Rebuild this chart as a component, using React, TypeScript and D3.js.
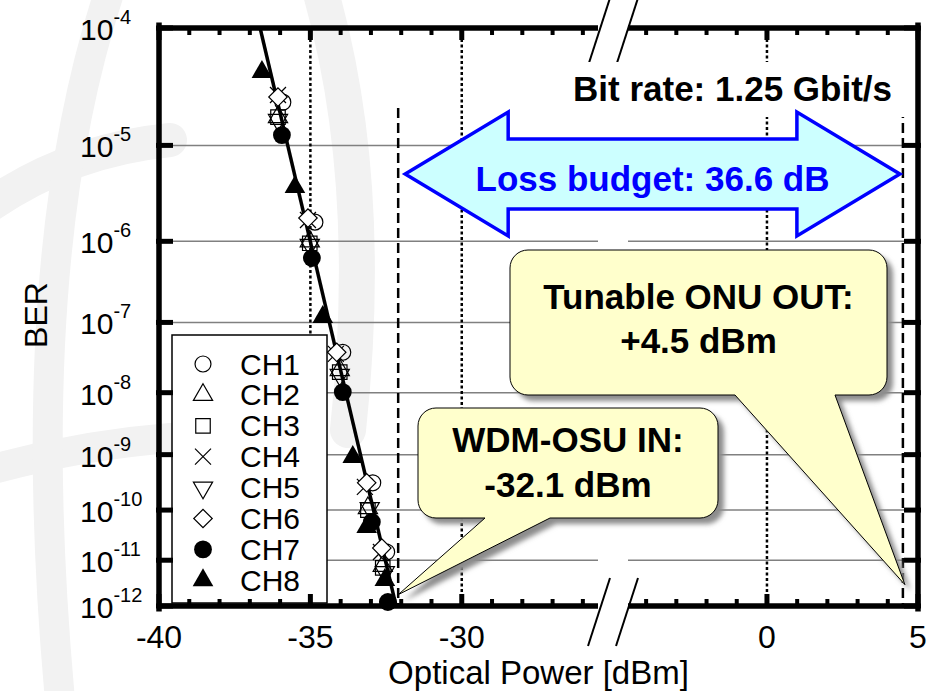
import React, { useEffect, useRef } from "react";
import * as d3 from "d3";

// BER curves, [optical power dBm, BER]
const channels = ["CH1", "CH2", "CH3", "CH4", "CH5", "CH6", "CH7", "CH8"];
const ch1 = [[-35.91, 2.48e-5], [-34.85, 1.64e-6], [-33.93, 3.9e-8], [-32.94, 3.2e-10], [-32.48, 1.48e-11]];
const ch2 = [[-36.07, 1.83e-5], [-35.02, 1.0e-6], [-34.03, 2.17e-8], [-33.1, 1.09e-10], [-32.61, 7.6e-12]];
const ch3 = [[-36.07, 1.83e-5], [-35.02, 9.5e-7], [-34.03, 2.03e-8], [-33.1, 1.0e-10], [-32.61, 6.9e-12]];
const ch4 = [[-36.07, 2.86e-5], [-35.08, 1.73e-6], [-34.16, 3.7e-8], [-33.2, 2.7e-10], [-32.67, 1.48e-11]];
const ch5 = [[-36.07, 1.72e-5], [-35.02, 9.1e-7], [-34.03, 1.84e-8], [-33.04, 1.09e-10], [-32.54, 5.6e-12]];
const ch6 = [[-36.07, 2.75e-5], [-35.08, 1.82e-6], [-34.13, 3.9e-8], [-33.14, 3.2e-10], [-32.64, 1.78e-11]];
const ch7 = [[-35.94, 1.25e-5], [-34.95, 6.4e-7], [-33.93, 1.02e-8], [-32.97, 5.9e-11], [-32.44, 1.23e-12]];
const ch8 = [[-36.6, 4.48e-5], [-35.51, 3.87e-6], [-34.59, 1.18e-7], [-33.6, 9.1e-10], [-33.14, 4.7e-11], [-32.54, 3.8e-12]];
const series = [ch1, ch2, ch3, ch4, ch5, ch6, ch7, ch8];

// fitted line ends
const fitPower = [-36.66, -32.17];
const fitBer = [1e-4, 1e-12];

// axes
const yExponents = [4, 5, 6, 7, 8, 9, 10, 11, 12];
const xMajorTicks = [-40, -35, -30, 0, 5];
const xBreak = [-25.5, -4.6];
const dottedLines = [-35, -30, 0];
const dashedLines = [-32.1, 4.5];

// annotations
const osuIn = -32.1;
const onuOut = 4.5;
const osuTipBer = 1.8e-12;
const onuTipBer = 3e-12;

const FONT = "'Liberation Sans', Arial, sans-serif";

const App = () => {
  const ref = useRef(null);

  useEffect(() => {
    if (ref.current) draw(ref.current);
  }, []);

  const draw = (node) => {
    const svg = d3.select(node);
    svg.selectAll("*").remove();

    const left = 159, right = 918, top = 28, bottom = 606;
    const gapL = 598, gapR = 628;

    const x = d3.scaleLinear().domain([-40, xBreak[0], xBreak[1], 5]).range([left, gapL, gapR, right]);
    const yLog = d3.scaleLog().domain([4, 12]).range([top, bottom]);
    const y = (ber) => yLog(-Math.log10(ber));

    const defs = svg.append("defs");
    defs.append("clipPath").attr("id", "plotclip")
      .append("rect").attr("x", left).attr("y", top).attr("width", right - left).attr("height", bottom - top);
    const blur = defs.append("filter").attr("id", "shadow").attr("x", "-20%").attr("y", "-20%").attr("width", "140%").attr("height", "140%");
    blur.append("feGaussianBlur").attr("stdDeviation", 2.5);

    // faint watermark in the background
    const wm = svg.append("g").attr("fill", "none").attr("stroke", "#f2f2f2").attr("stroke-linecap", "round");
    wm.append("path").attr("d", "M-10,205 Q70,150 170,140").attr("stroke-width", 34);
    wm.append("path").attr("d", "M-10,470 Q80,445 170,438").attr("stroke-width", 30);
    wm.append("path").attr("d", "M320,-10 Q375,180 348,430").attr("stroke-width", 36);
    wm.append("path").attr("d", "M110,-10 Q20,260 60,700").attr("stroke-width", 30);

    // horizontal grid, split at the axis break
    const grid = svg.append("g").attr("stroke", "#808080").attr("stroke-width", 1.5);
    yExponents.slice(1, -1).forEach((e) => {
      const yy = yLog(e);
      grid.append("line").attr("x1", left).attr("x2", gapL).attr("y1", yy).attr("y2", yy);
      grid.append("line").attr("x1", gapR).attr("x2", right).attr("y1", yy).attr("y2", yy);
    });

    // reference lines
    dottedLines.forEach((p) => {
      svg.append("line").attr("x1", x(p)).attr("x2", x(p)).attr("y1", top).attr("y2", bottom)
        .attr("stroke", "#000").attr("stroke-width", 2.5).attr("stroke-dasharray", "3,2.5");
    });
    dashedLines.forEach((p) => {
      svg.append("line").attr("x1", x(p)).attr("x2", x(p)).attr("y1", 108).attr("y2", bottom)
        .attr("stroke", "#000").attr("stroke-width", 2.5).attr("stroke-dasharray", "10,5");
    });

    // fitted line
    const line = d3.line().x((d) => x(d[0])).y((d) => y(d[1]));
    svg.append("path").datum(fitPower.map((p, i) => [p, fitBer[i]]))
      .attr("d", line).attr("clip-path", "url(#plotclip)")
      .attr("fill", "none").attr("stroke", "#000").attr("stroke-width", 3.5);

    // markers
    const markerStyles = [
      { type: d3.symbolCircle, size: 200, fill: "none", rot: 0 },
      { type: d3.symbolTriangle, size: 160, fill: "none", rot: 0 },
      { type: d3.symbolSquare, size: 210, fill: "none", rot: 0 },
      { type: null, size: 0, fill: "none", rot: 0 },
      { type: d3.symbolTriangle, size: 160, fill: "none", rot: 180 },
      { type: d3.symbolSquare, size: 170, fill: "#fff", rot: 45 },
      { type: d3.symbolCircle, size: 250, fill: "#000", rot: 0 },
      { type: d3.symbolTriangle, size: 185, fill: "#000", rot: 0 },
    ];
    const markerPath = (i) => {
      const m = markerStyles[i];
      if (!m.type) return "M-8,-8L8,8M-8,8L8,-8";
      return d3.symbol().type(m.type).size(m.size)();
    };
    const drawMarker = (g, i, cx, cy) => {
      const m = markerStyles[i];
      g.append("path").attr("d", markerPath(i))
        .attr("transform", `translate(${cx},${cy}) rotate(${m.rot})`)
        .attr("fill", m.fill).attr("stroke", "#000").attr("stroke-width", m.fill === "#000" ? 0 : 1.2);
    };

    const pts = svg.append("g");
    series.forEach((s, i) => {
      s.forEach((d) => drawMarker(pts, i, x(d[0]), y(d[1])));
    });

    // legend
    const lg = svg.append("g");
    lg.append("rect").attr("x", 172).attr("y", 335).attr("width", 155).attr("height", 268)
      .attr("fill", "#fff").attr("stroke", "#000").attr("stroke-width", 1.5);
    channels.forEach((c, i) => {
      const ly = 364 + i * 30.9;
      drawMarker(lg, i, 203, ly);
      lg.append("text").attr("x", 240).attr("y", ly + 10.5).text(c)
        .attr("font-family", FONT).attr("font-size", 30);
    });

    // frame
    const frame = svg.append("g").attr("stroke", "#000").attr("stroke-width", 5.5).attr("stroke-linecap", "square");
    [top, bottom].forEach((yy) => {
      frame.append("line").attr("x1", left).attr("x2", gapL).attr("y1", yy).attr("y2", yy).attr("stroke-linecap", "butt");
      frame.append("line").attr("x1", gapR).attr("x2", right).attr("y1", yy).attr("y2", yy).attr("stroke-linecap", "butt");
    });
    frame.append("line").attr("x1", left).attr("x2", left).attr("y1", top - 2.75).attr("y2", bottom + 2.75);
    frame.append("line").attr("x1", right).attr("x2", right).attr("y1", top - 2.75).attr("y2", bottom + 2.75);

    // x ticks (inside, top and bottom)
    const minor = d3.range(-39, -25).concat(d3.range(-4, 5)).filter((v) => !xMajorTicks.includes(v));
    const ticks = svg.append("g").attr("stroke", "#000");
    minor.forEach((v) => {
      [[bottom, -1], [top, 1]].forEach(([yy, dir]) => {
        ticks.append("line").attr("x1", x(v)).attr("x2", x(v)).attr("y1", yy).attr("y2", yy + dir * 7).attr("stroke-width", 4);
      });
    });
    xMajorTicks.forEach((v) => {
      [[bottom, -1], [top, 1]].forEach(([yy, dir]) => {
        ticks.append("line").attr("x1", x(v)).attr("x2", x(v)).attr("y1", yy).attr("y2", yy + dir * 12).attr("stroke-width", 5);
      });
    });
    yExponents.forEach((e) => {
      const yy = yLog(e);
      ticks.append("line").attr("x1", left - 3).attr("x2", left + 14).attr("y1", yy).attr("y2", yy).attr("stroke-width", 5);
      ticks.append("line").attr("x1", right - 14).attr("x2", right + 3).attr("y1", yy).attr("y2", yy).attr("stroke-width", 5);
    });

    // axis break marks
    const brk = svg.append("g").attr("stroke", "#000").attr("stroke-width", 2);
    [top + 4, bottom + 6].forEach((yy) => {
      [gapL + 1, gapR - 1].forEach((xx) => {
        brk.append("line").attr("x1", xx + 11).attr("y1", yy - 34).attr("x2", xx - 11).attr("y2", yy + 34);
      });
    });

    // tick labels
    const txt = svg.append("g").attr("font-family", FONT).attr("fill", "#000");
    xMajorTicks.forEach((v) => {
      txt.append("text").attr("x", x(v)).attr("y", 648).attr("text-anchor", "middle")
        .attr("font-size", 32).text(String(v));
    });
    yExponents.forEach((e) => {
      const t = txt.append("text").attr("x", 80).attr("y", yLog(e) + 12);
      t.append("tspan").attr("font-size", 30).text("10");
      t.append("tspan").attr("font-size", 20).attr("dy", -16).text(`-${e}`);
    });
    txt.append("text").attr("x", (left + right) / 2).attr("y", 684).attr("text-anchor", "middle")
      .attr("font-size", 33).text("Optical Power [dBm]");
    txt.append("text").attr("transform", "translate(47,315) rotate(-90)").attr("text-anchor", "middle")
      .attr("font-size", 32).text("BER");

    // bit rate label on a white box
    svg.append("rect").attr("x", 545).attr("y", 62).attr("width", 367).attr("height", 55).attr("fill", "#fff");
    svg.append("text").attr("x", 892).attr("y", 101).attr("text-anchor", "end")
      .attr("font-family", FONT).attr("font-weight", 700).attr("font-size", 35).text("Bit rate: 1.25 Gbit/s");

    // loss budget double arrow
    const ax0 = x(osuIn) + 7, ax1 = x(onuOut) - 3;
    const cy = 174, hh = 62, sh = 35, hl = 103;
    svg.append("path")
      .attr("d", `M${ax0},${cy} L${ax0 + hl},${cy - hh} V${cy - sh} H${ax1 - hl} V${cy - hh} L${ax1},${cy} L${ax1 - hl},${cy + hh} V${cy + sh} H${ax0 + hl} V${cy + hh} Z`)
      .attr("fill", "#ccffff").attr("stroke", "#0000ff").attr("stroke-width", 3.5).attr("stroke-linejoin", "miter");
    svg.append("text").attr("x", (ax0 + ax1) / 2).attr("y", 191).attr("text-anchor", "middle")
      .attr("font-family", FONT).attr("font-weight", 700).attr("font-size", 35).attr("fill", "#0000ff")
      .text("Loss budget: 36.6 dB");

    // callouts
    const callout = (b, base, tip, lines, baselines, fs) => {
      const { x: bx, y: by, w, h } = b;
      const r = 18;
      const d = `M${bx + r},${by} H${bx + w - r} A${r},${r} 0 0 1 ${bx + w},${by + r} V${by + h - r} A${r},${r} 0 0 1 ${bx + w - r},${by + h} H${base[1]} L${tip[0]},${tip[1]} L${base[0]},${by + h} H${bx + r} A${r},${r} 0 0 1 ${bx},${by + h - r} V${by + r} A${r},${r} 0 0 1 ${bx + r},${by} Z`;
      const g = svg.append("g");
      g.append("path").attr("d", d).attr("transform", "translate(6,6)").attr("fill", "#8c8c8c").attr("filter", "url(#shadow)");
      g.append("path").attr("d", d).attr("fill", "#ffffcc").attr("stroke", "#000").attr("stroke-width", 1);
      lines.forEach((l, i) => {
        g.append("text").attr("x", bx + w / 2).attr("y", baselines[i]).attr("text-anchor", "middle")
          .attr("font-family", FONT).attr("font-weight", 700).attr("font-size", fs).text(l);
      });
    };
    callout({ x: 510, y: 250, w: 377, h: 145 }, [735, 835], [x(onuOut) + 2, y(onuTipBer)],
      ["Tunable ONU OUT:", "+4.5 dBm"], [309, 353], 35);
    callout({ x: 418, y: 408, w: 300, h: 110 }, [485, 550], [x(osuIn), y(osuTipBer)],
      ["WDM-OSU IN:", "-32.1 dBm"], [452, 497], 35);
  };

  return (
    <svg ref={ref} width={943} height={691} style={{ position: "absolute", left: 0, top: 0, background: "#fff" }} />
  );
};

export default App;
